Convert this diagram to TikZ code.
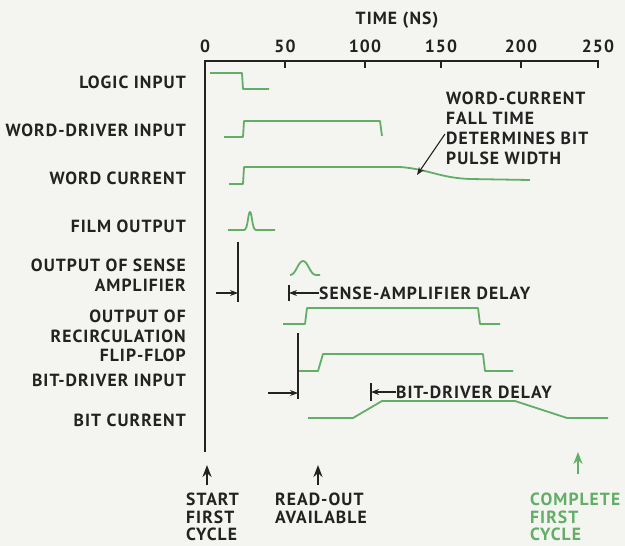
\documentclass[tikz,border=0pt]{standalone}
\usepackage{fontspec}
\setmainfont[LetterSpace=6]{PT Sans}
\usetikzlibrary{arrows.meta,positioning}
\definecolor{TraceGreen}{HTML}{62AE66}
\definecolor{PaperTone}{HTML}{F4F4F0}
\definecolor{InkDark}{HTML}{222222}

\tikzset{
  lettering/.style={font=\bfseries\fontsize{17.6}{19.8}\selectfont, text=InkDark, inner sep=0pt},
  signame/.style={lettering, anchor=east, align=right},
  trace/.style={TraceGreen, line width=1.8pt, line join=round},
  inkline/.style={InkDark, line width=1.1pt},
  pointer/.style={inkline, -{Stealth[length=8pt,width=6pt]}},
  uparrow/.style={line width=2pt, -{Stealth[length=12pt,width=9pt]}}
}

\begin{document}
\begin{tikzpicture}[x=1pt,y=-1pt]
  \fill[PaperTone] (0,0) rectangle (625,546);
  \useasboundingbox (0,0) rectangle (625,546);

  % time axis
  \draw[InkDark,line width=1.8pt] (205,452) -- (205,61) -- (598,61) -- (598,68);
  \foreach \tx in {285,365,441,521}
    \draw[InkDark,line width=1.4pt] (\tx,61) -- (\tx,68);
  \foreach \tx/\tv in {205/0,285/50,365/100,441/150,521/200,598/250}
    \node[lettering] (tick\tv) at (\tx,46) {\tv};
  \node[lettering] (timehdr) at (397,20) {TIME (NS)};

  % signal names
  \node[signame] (logicin) at (186,82) {LOGIC INPUT};
  \node[signame] (wdrvin) at (186,130) {WORD-DRIVER INPUT};
  \node[signame] (wcur) at (186,178) {WORD CURRENT};
  \node[signame] (filmout) at (186,226) {FILM OUTPUT};
  \node[signame] (senseout) at (186,275) {OUTPUT OF SENSE\\AMPLIFIER};
  \node[signame] (recirc) at (186,336) {OUTPUT OF\\RECIRCULATION\\FLIP-FLOP};
  \node[signame] (bdrvin) at (186,380) {BIT-DRIVER INPUT};
  \node[signame] (bcur) at (186,420) {BIT CURRENT};

  % waveforms
  \draw[trace] (210,73) -- (242,73) -- (243,89) -- (269,89);
  \draw[trace] (224,137) -- (243,137) -- (244,121) -- (380,121) -- (382,136);
  \draw[trace] (229,184) -- (243,184) -- (244,167) -- (400,167)
    .. controls (428,169) and (440,178) .. (470,179) -- (530,180);
  \draw[trace] (228,230) -- (244,230) .. controls (248,230) and (248,212) .. (250,212)
    .. controls (252,212) and (252,230) .. (256,230) -- (275,230);
  \draw[trace] (290,275) .. controls (296,275) and (298,261) .. (303,261)
    .. controls (308,261) and (310,275) .. (316,275) -- (320,275);
  \draw[trace] (283,324) -- (305,324) -- (307,308) -- (478,308) -- (480,324) -- (500,324);
  \draw[trace] (297,371) -- (318,371) -- (323,354) -- (483,354) -- (485,371) -- (513,371);
  \draw[trace] (308,418) -- (353,418) -- (382,401) -- (515,401) -- (567,418) -- (608,418);

  % fall-time note
  \node[lettering, anchor=north west, align=left] (fallnote) at (446,92)
    {WORD-CURRENT\\FALL TIME\\DETERMINES BIT\\PULSE WIDTH};
  \coordinate (notefoot) at (445,134);
  \coordinate (fallpt) at (417,175);
  \draw[pointer] (notefoot) -- (fallpt);

  % sense-amplifier delay
  \draw[inkline] (238,242) -- (238,302);
  \coordinate (filmmark) at (238,293);
  \coordinate (filmtail) at (216,293);
  \draw[pointer] (filmtail) -- (filmmark);
  \draw[inkline] (289,285) -- (289,301);
  \coordinate (sabar) at (289,293);
  \node[lettering, anchor=west] (sadelay) at (319,293) {SENSE-AMPLIFIER DELAY};
  \draw[pointer] (sadelay.west) -- (sabar);

  % bit-driver delay
  \draw[inkline] (298,333) -- (298,399);
  \coordinate (bdmark) at (298,393);
  \coordinate (bdtail) at (268,393);
  \draw[pointer] (bdtail) -- (bdmark);
  \draw[inkline] (371,383) -- (371,401);
  \coordinate (bdbar) at (371,392);
  \node[lettering, anchor=west] (bddelay) at (396,392) {BIT-DRIVER DELAY};
  \draw[pointer] (bddelay.west) -- (bdbar);

  % cycle markers
  \coordinate (starttail) at (207,485);
  \coordinate (starthead) at (207,465);
  \draw[uparrow,InkDark] (starttail) -- (starthead);
  \node[lettering, anchor=north west, align=left, font=\bfseries\fontsize{17.6}{17.6}\selectfont]
    (startlbl) at (186,493) {START\\FIRST\\CYCLE};
  \coordinate (readtail) at (318,485);
  \coordinate (readhead) at (318,465);
  \draw[uparrow,InkDark] (readtail) -- (readhead);
  \node[lettering, anchor=north west, align=left, font=\bfseries\fontsize{17.6}{17.6}\selectfont]
    (readlbl) at (275,493) {READ-OUT\\AVAILABLE};
  \coordinate (donetail) at (578,474);
  \coordinate (donehead) at (578,452);
  \draw[uparrow,TraceGreen] (donetail) -- (donehead);
  \node[lettering, anchor=north west, align=left, text=TraceGreen, font=\bfseries\fontsize{17.6}{17.6}\selectfont]
    (donelbl) at (530,493) {COMPLETE\\FIRST\\CYCLE};
\end{tikzpicture}
\end{document}
